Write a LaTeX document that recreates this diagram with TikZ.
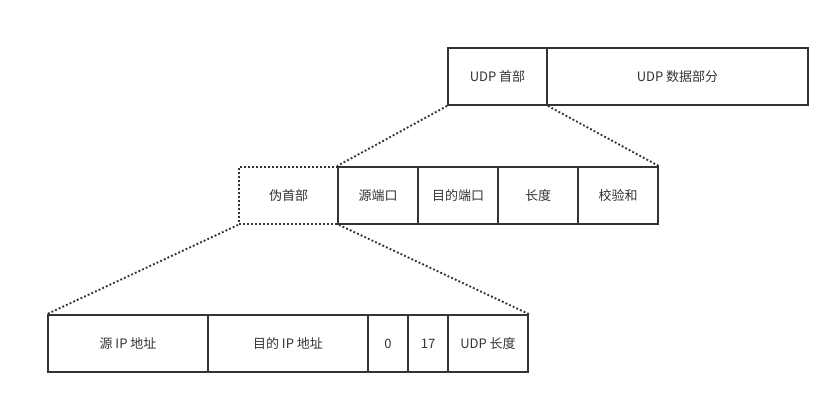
\documentclass[tikz,border=0pt]{standalone}
\usepackage{fontspec}
\setmainfont{Noto Sans CJK SC}
\definecolor{ln}{HTML}{333333}
\definecolor{tx}{HTML}{333333}
\begin{document}
\begin{tikzpicture}[x=0.75pt,y=-0.75pt,
  fbox/.style={draw=ln,line width=1.4pt,minimum height=42.75pt,inner sep=0pt,text=tx,font=\fontsize{9.75pt}{12pt}\selectfont},
  dotbox/.style={fbox,dash pattern=on 1.4pt off 1.6pt},
  dotline/.style={draw=ln,line width=1.4pt,dash pattern=on 1.4pt off 1.6pt}]
\useasboundingbox (0,0) rectangle (840,405);
% top row
\node[fbox,minimum width=74.25pt] (udph) at (497.5,76.5) {UDP 首部};
\node[fbox,minimum width=195.75pt] (udpd) at (677.5,76.5) {UDP 数据部分};
% middle row
\node[dotbox,minimum width=74.25pt] (pseudo) at (288.5,195.5) {伪首部};
\node[fbox,minimum width=60pt] (src) at (378,195.5) {源端口};
\node[fbox,minimum width=60pt] (dst) at (458,195.5) {目的端口};
\node[fbox,minimum width=60pt] (len) at (538,195.5) {长度};
\node[fbox,minimum width=60pt] (chk) at (618,195.5) {校验和};
% bottom row
\node[fbox,minimum width=120pt] (sip) at (128,343.5) {源 IP 地址};
\node[fbox,minimum width=120pt] (dip) at (288,343.5) {目的 IP 地址};
\node[fbox,minimum width=30pt] (zero) at (388,343.5) {0};
\node[fbox,minimum width=30pt] (proto) at (428,343.5) {17};
\node[fbox,minimum width=60pt] (ulen) at (488,343.5) {UDP 长度};
% dotted connectors
\draw[dotline] (udph.south west) -- (src.north west);
\draw[dotline] (udph.south east) -- (chk.north east);
\draw[dotline] (pseudo.south west) -- (sip.north west);
\draw[dotline] (pseudo.south east) -- (ulen.north east);
\end{tikzpicture}
\end{document}
